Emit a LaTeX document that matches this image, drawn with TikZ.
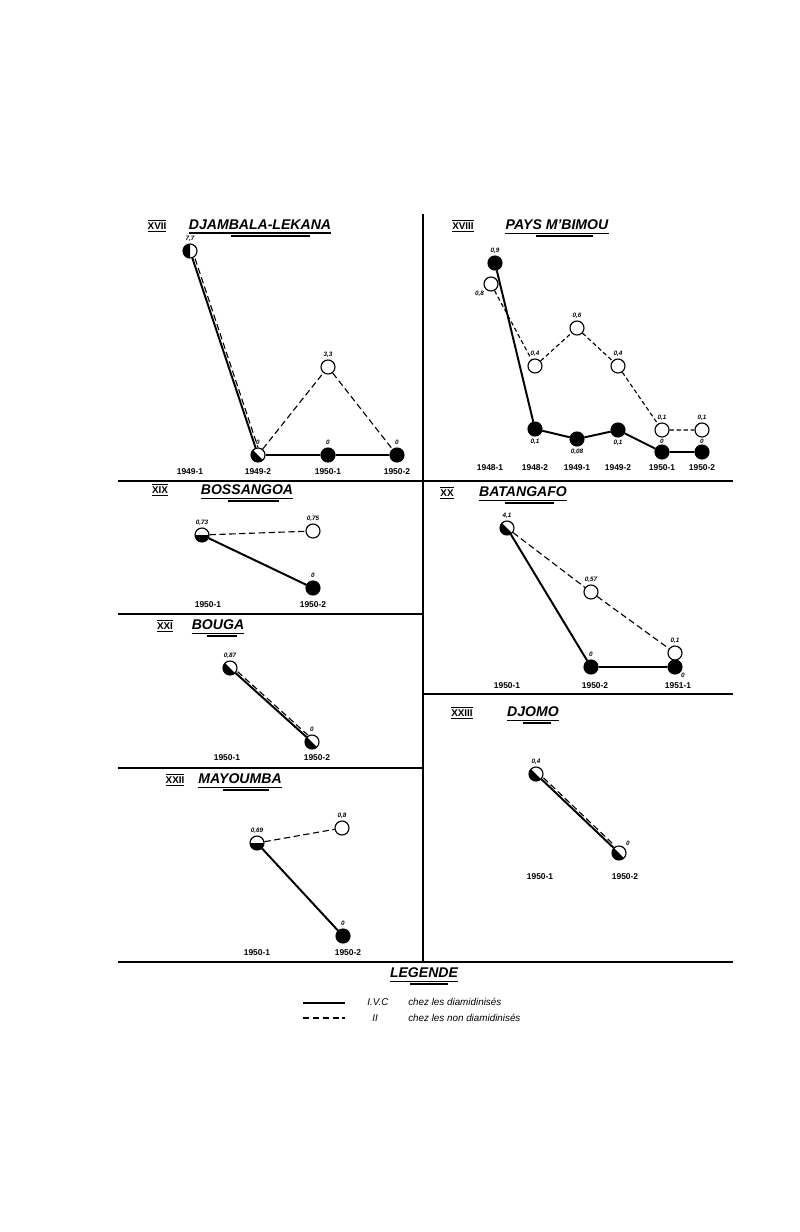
\documentclass[tikz,border=0pt]{standalone}
\usepackage{fontspec}
\setmainfont{Liberation Sans}
\usetikzlibrary{calc}

\begin{document}
\begin{tikzpicture}[x=0.025cm, y=-0.025cm,
  every node/.style={inner sep=0pt},
  blackdot/.style={circle, draw, fill=black, minimum size=3.5mm, line width=0.8pt},
  whitedot/.style={circle, draw, fill=white, minimum size=3.5mm, line width=0.8pt},
  halfdot/.style={whitedot, path picture={\fill[black] (path picture bounding box.center) ++(#1:4mm)
    arc[start angle=#1, end angle=#1+180, radius=4mm] -- cycle;}},
  halfdot/.default=135,
  every label/.style={font=\fontsize{4.5}{5}\selectfont\bfseries\itshape},
  label distance=1.5pt,
  year/.style={font=\fontsize{6}{7}\selectfont\bfseries},
  numeral/.style={font=\fontsize{7}{8}\selectfont\bfseries},
  heading/.style={font=\fontsize{10}{12}\selectfont\bfseries\itshape,
    append after command={
      ([yshift=-2pt]\tikzlastnode.south west) edge[draw, line width=0.8pt] ([yshift=-2pt]\tikzlastnode.south east)
      ($(\tikzlastnode.south west)!0.3!(\tikzlastnode.south east)+(0pt,-4pt)$) edge[draw, line width=1.6pt]
      ($(\tikzlastnode.south west)!0.85!(\tikzlastnode.south east)+(0pt,-4pt)$)}},
  ivc/.style={line width=1.4pt},
  nd/.style={line width=0.8pt, dash pattern=on 4.5pt off 2.5pt},
  frame/.style={line width=1.2pt}]
  \useasboundingbox (0,0) rectangle (800,1232);

  \draw[frame] (423,214) -- (423,962);
  \draw[frame] (118,481) -- (733,481);
  \draw[frame] (118,614) -- (423,614);
  \draw[frame] (118,768) -- (423,768);
  \draw[frame] (423,694) -- (733,694);
  \draw[frame] (118,962) -- (733,962);

  \node[numeral] at (157,226) {$\overline{\underline{\hbox{XVII}}}$};
  \node[heading] (djambala) at (260,225) {DJAMBALA-LEKANA};
  \node[halfdot=90, label={above:{7,7}}] (a1) at (190,251) {};
  \node[halfdot, label={above:{0}}] (a2) at (258,455) {};
  \node[blackdot, label={above:{0}}] (a3) at (328,455) {};
  \node[whitedot, label={above:{3,3}}] (a3o) at (328,367) {};
  \node[blackdot, label={above:{0}}] (a4) at (397,455) {};
  \node[year] at (190,472) {1949-1};
  \node[year] at (258,472) {1949-2};
  \node[year] at (328,472) {1950-1};
  \node[year] at (397,472) {1950-2};
  \draw[ivc] (a1) -- (a2) -- (a3) -- (a4);
  \draw[nd, shorten <=2mm, shorten >=2mm] ([xshift=1.8pt]a1.center) -- ([xshift=1.8pt]a2.center);
  \draw[nd] (a2) -- (a3o) -- (a4);

  \node[numeral] at (463,226) {$\overline{\underline{\hbox{XVIII}}}$};
  \node[heading] (mbimou) at (557,225) {PAYS M'BIMOU};
  \node[blackdot, label={above:{0,9}}] (b1) at (495,263) {};
  \node[whitedot, label={below left:{0,8}}] (b1o) at (491,284) {};
  \node[blackdot, label={below:{0,1}}] (b2) at (535,429) {};
  \node[whitedot, label={above:{0,4}}] (b2o) at (535,366) {};
  \node[blackdot, label={below:{0,08}}] (b3) at (577,439) {};
  \node[whitedot, label={above:{0,6}}] (b3o) at (577,328) {};
  \node[blackdot, label={below:{0,1}}] (b4) at (618,430) {};
  \node[whitedot, label={above:{0,4}}] (b4o) at (618,366) {};
  \node[blackdot, label={[label distance=0.5pt]above:{0}}] (b5) at (662,452) {};
  \node[whitedot, label={above:{0,1}}] (b5o) at (662,430) {};
  \node[blackdot, label={[label distance=0.5pt]above:{0}}] (b6) at (702,452) {};
  \node[whitedot, label={above:{0,1}}] (b6o) at (702,430) {};
  \node[year] at (490,468) {1948-1};
  \node[year] at (535,468) {1948-2};
  \node[year] at (577,468) {1949-1};
  \node[year] at (618,468) {1949-2};
  \node[year] at (662,468) {1950-1};
  \node[year] at (702,468) {1950-2};
  \draw[ivc] (b1) -- (b2) -- (b3) -- (b4) -- (b5) -- (b6);
  \draw[nd, dash pattern=on 3pt off 2pt] (b1o) -- (b2o) -- (b3o) -- (b4o) -- (b5o) -- (b6o);

  \node[numeral] at (160,490) {$\overline{\underline{\hbox{XIX}}}$};
  \node[heading] (bossangoa) at (247,490) {BOSSANGOA};
  \node[halfdot=180, label={above:{0,73}}] (c1) at (202,535) {};
  \node[whitedot, label={above:{0,75}}] (c2o) at (313,531) {};
  \node[blackdot, label={above:{0}}] (c2) at (313,588) {};
  \node[year] at (208,605) {1950-1};
  \node[year] at (313,605) {1950-2};
  \draw[ivc] (c1) -- (c2);
  \draw[nd] (c1) -- (c2o);

  \node[numeral] at (165,626) {$\overline{\underline{\hbox{XXI}}}$};
  \node[heading] (bouga) at (218,625) {BOUGA};
  \node[halfdot, label={above:{0,87}}] (d1) at (230,668) {};
  \node[halfdot, label={above:{0}}] (d2) at (312,742) {};
  \node[year] at (227,758) {1950-1};
  \node[year] at (317,758) {1950-2};
  \draw[ivc] (d1) -- (d2);
  \draw[nd, shorten <=2mm, shorten >=2mm] ([xshift=1.2pt,yshift=1.2pt]d1.center) -- ([xshift=1.2pt,yshift=1.2pt]d2.center);

  \node[numeral] at (447,493) {$\overline{\underline{\hbox{XX}}}$};
  \node[heading] (batangafo) at (523,492) {BATANGAFO};
  \node[halfdot, label={above:{4,1}}] (e1) at (507,528) {};
  \node[blackdot, label={above:{0}}] (e2) at (591,667) {};
  \node[whitedot, label={above:{0,57}}] (e2o) at (591,592) {};
  \node[blackdot, label={[label distance=0.5pt]below right:{0}}] (e3) at (675,667) {};
  \node[whitedot, label={above:{0,1}}] (e3o) at (675,653) {};
  \node[year] at (507,686) {1950-1};
  \node[year] at (595,686) {1950-2};
  \node[year] at (678,686) {1951-1};
  \draw[ivc] (e1) -- (e2) -- (e3);
  \draw[nd] (e1) -- (e2o) -- (e3o);

  \node[numeral] at (175,780) {$\overline{\underline{\hbox{XXII}}}$};
  \node[heading] (mayoumba) at (240,779) {MAYOUMBA};
  \node[halfdot=180, label={above:{0,69}}] (f1) at (257,843) {};
  \node[whitedot, label={above:{0,8}}] (f2o) at (342,828) {};
  \node[blackdot, label={above:{0}}] (f2) at (343,936) {};
  \node[year] at (257,953) {1950-1};
  \node[year] at (348,953) {1950-2};
  \draw[ivc] (f1) -- (f2);
  \draw[nd] (f1) -- (f2o);

  \node[numeral] at (462,713) {$\overline{\underline{\hbox{XXIII}}}$};
  \node[heading] (djomo) at (533,712) {DJOMO};
  \node[halfdot, label={above:{0,4}}] (g1) at (536,774) {};
  \node[halfdot, label={above right:{0}}] (g2) at (619,853) {};
  \node[year] at (540,877) {1950-1};
  \node[year] at (625,877) {1950-2};
  \draw[ivc] (g1) -- (g2);
  \draw[nd, shorten <=2mm, shorten >=2mm] ([xshift=1.2pt,yshift=1.2pt]g1.center) -- ([xshift=1.2pt,yshift=1.2pt]g2.center);

  \node[heading] (legende) at (424,973) {LEGENDE};
  \coordinate (s1) at (303,1003);
  \coordinate (s2) at (345,1003);
  \coordinate (n1) at (303,1018);
  \coordinate (n2) at (345,1018);
  \draw[ivc] (s1) -- (s2);
  \draw[nd] (n1) -- (n2);
  \node[font=\fontsize{7}{8}\selectfont\itshape] (ivctext) at (378,1002) {I.V.C};
  \node[font=\fontsize{7}{8}\selectfont\itshape] (ditto) at (375,1018) {II};
  \node[font=\fontsize{7}{8}\selectfont\itshape, anchor=west] (treated) at (408,1002) {chez les diamidinisés};
  \node[font=\fontsize{7}{8}\selectfont\itshape, anchor=west] (untreated) at (408,1018) {chez les non diamidinisés};
\end{tikzpicture}
\end{document}
